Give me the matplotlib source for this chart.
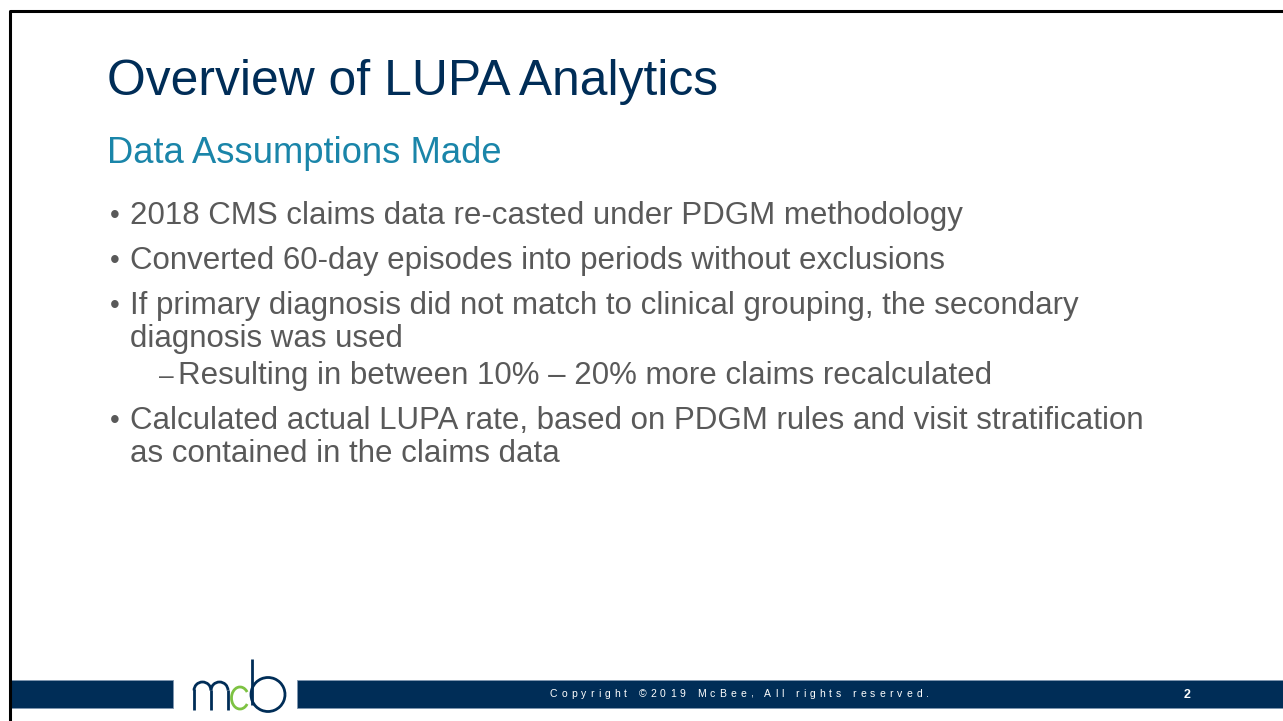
import matplotlib
matplotlib.use("Agg")
import matplotlib.pyplot as plt
from matplotlib.patches import Rectangle, Arc

plt.rcParams['font.family'] = ['Liberation Sans', 'DejaVu Sans']

title = "Overview of LUPA Analytics"
subtitle = "Data Assumptions Made"
bullet_levels = [0, 0, 0, 1, 0]
bullet_lines = [
    ["2018 CMS claims data re-casted under PDGM methodology"],
    ["Converted 60-day episodes into periods without exclusions"],
    ["If primary diagnosis did not match to clinical grouping, the secondary",
     "diagnosis was used"],
    ["Resulting in between 10% \u2013 20% more claims recalculated"],
    ["Calculated actual LUPA rate, based on PDGM rules and visit stratification",
     "as contained in the claims data"],
]
footer_text = "Copyright \u00a92019 McBee, All rights reserved."
page_no = "2"

NAVY = "#002d57"
TEAL = "#1a85a9"
GRAY = "#595959"
GREEN = "#7dc242"

W, H = 1283, 721
fig = plt.figure(figsize=(W / 100, H / 100), dpi=100)
ax = fig.add_axes([0, 0, 1, 1])
ax.set_xlim(0, W)
ax.set_ylim(H, 0)
ax.axis('off')

# slide frame
ax.plot([9.5, 9.5, W], [H, 10.5, 10.5], color='black', lw=2.2, solid_capstyle='butt')

# headings
ax.text(107, 95, title, fontsize=35.8, color=NAVY, va='baseline', ha='left')
ax.text(107, 163, subtitle, fontsize=26.2, color=TEAL, va='baseline', ha='left')

# bullets
fs = 22.5
y = 224
for i, (lvl, lines) in enumerate(zip(bullet_levels, bullet_lines)):
    if i > 0:
        y += 37 if lvl == 1 else 45
    if lvl == 0:
        ax.text(110, y - 1, "\u2022", fontsize=20, color=GRAY, va='baseline')
        x0 = 130
    else:
        ax.text(174, y, "\u2013", fontsize=19, color=GRAY, va='baseline', ha='right')
        x0 = 178
    for j, ln in enumerate(lines):
        if j > 0:
            y += 33
        ax.text(x0, y, ln, fontsize=fs, color=GRAY, va='baseline')

# footer bar
ax.add_patch(Rectangle((11, 680), 162, 28, facecolor=NAVY, edgecolor='#7f97b0', lw=0.6))
ax.add_patch(Rectangle((297, 680), W - 297, 28, facecolor=NAVY, edgecolor='#7f97b0', lw=0.6))

# logo: m
lw_logo = 2.0
ax.plot([194, 194], [710, 689], color=NAVY, lw=lw_logo, solid_capstyle='butt')
ax.plot([211, 211], [710, 690], color=NAVY, lw=lw_logo, solid_capstyle='butt')
ax.plot([228, 228], [710, 690], color=NAVY, lw=lw_logo, solid_capstyle='butt')
ax.add_patch(Arc((202.5, 690.5), 17, 17, theta1=180, theta2=360, color=NAVY, lw=lw_logo))
ax.add_patch(Arc((219.5, 690.5), 17, 17, theta1=180, theta2=360, color=NAVY, lw=lw_logo))
# c
ax.add_patch(Arc((240, 698), 17, 22, theta1=40, theta2=320, color=GREEN, lw=lw_logo))
# b
ax.plot([252, 252], [659, 705], color=NAVY, lw=lw_logo, solid_capstyle='butt')
ax.add_patch(Arc((268, 694.5), 34, 34, theta1=0, theta2=360, color=NAVY, lw=lw_logo))

# footer copyright with letter spacing
fig.canvas.draw()
rend = fig.canvas.get_renderer()
x = 550
for ch in footer_text:
    t = ax.text(x, 697, ch, fontsize=7.5, color='white', va='baseline', ha='left')
    wpx = t.get_window_extent(renderer=rend).width if ch != ' ' else 3
    x += wpx + 4.1

ax.text(1187, 698, page_no, fontsize=9, color='white', fontweight='bold', va='baseline', ha='center')

fig.savefig("out.png", dpi=100)
